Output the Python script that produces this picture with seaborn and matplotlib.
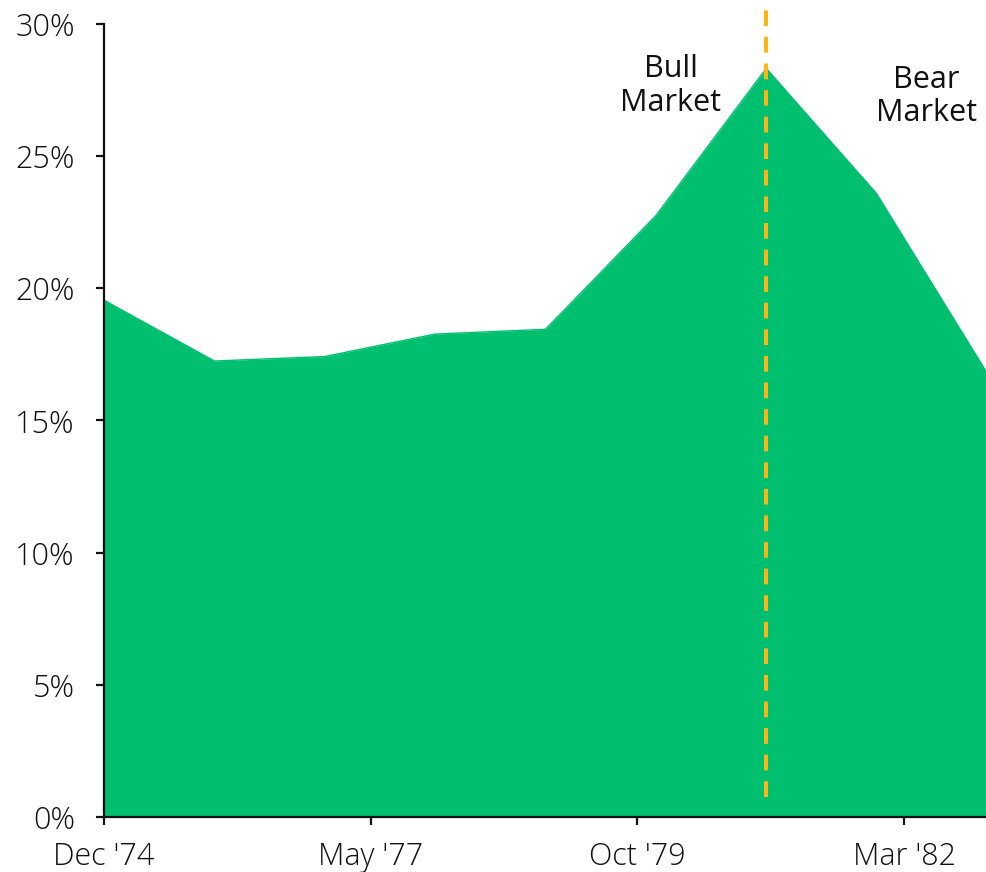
import matplotlib
matplotlib.use("Agg")
import matplotlib.pyplot as plt
import seaborn as sns
import pandas as pd

# Annual observations, Dec '74 through Dec '82 (months since Dec '74)
months = [0, 12, 24, 36, 48, 60, 72, 84, 96]
values = [19.55, 17.25, 17.42, 18.27, 18.45, 22.75, 28.32, 23.58, 16.8]

tick_months = [0, 29, 58, 87]
tick_labels = ["Dec '74", "May '77", "Oct '79", "Mar '82"]
y_ticks = [0, 5, 10, 15, 20, 25, 30]

peak_month = 72

green = "#00BF6F"
orange = "#FDB515"
ink = "#111111"

sns.set_theme(style="white")
plt.rcParams["font.family"] = ["Open Sans", "DejaVu Sans"]

df = pd.DataFrame({"month": months, "value": values})

fig = plt.figure(figsize=(9.87, 8.72), dpi=100)
ax = fig.add_axes([104 / 987, 55 / 872, 883 / 987, 793 / 872])

sns.lineplot(data=df, x="month", y="value", ax=ax, color=green, linewidth=1.0)
ax.fill_between(df["month"], df["value"], 0, color=green, linewidth=0)

ax.set_xlim(0, 96)
ax.set_ylim(0, 30)

# dashed marker at the market peak
ax.plot([peak_month, peak_month], [0.75, 30.7], color=orange, linewidth=2.9,
        dashes=(3.9, 2.7), clip_on=False, zorder=5)

ax.set_xticks(tick_months)
ax.set_xticklabels(tick_labels)
ax.set_yticks(y_ticks)
ax.set_yticklabels([f"{v}%" for v in y_ticks])
ax.set_xlabel("")
ax.set_ylabel("")

for side in ["top", "right"]:
    ax.spines[side].set_visible(False)
for side in ["left", "bottom"]:
    ax.spines[side].set_color(ink)
    ax.spines[side].set_linewidth(1.6)

ax.tick_params(axis="both", which="major", direction="out", length=6, width=1.6,
               color=ink, labelsize=22, labelcolor=ink, bottom=True, left=True)
ax.tick_params(axis="y", pad=15)
ax.tick_params(axis="x", pad=11)
for lbl in ax.get_xticklabels() + ax.get_yticklabels():
    lbl.set_fontweight("light")

ax.text(61.6, 27.65, "Bull\nMarket", ha="center", va="center", fontsize=22,
        color=ink, linespacing=1.15)
ax.text(89.4, 27.25, "Bear\nMarket", ha="center", va="center", fontsize=22,
        color=ink, linespacing=1.15)

fig.savefig("out.png", dpi=100)
